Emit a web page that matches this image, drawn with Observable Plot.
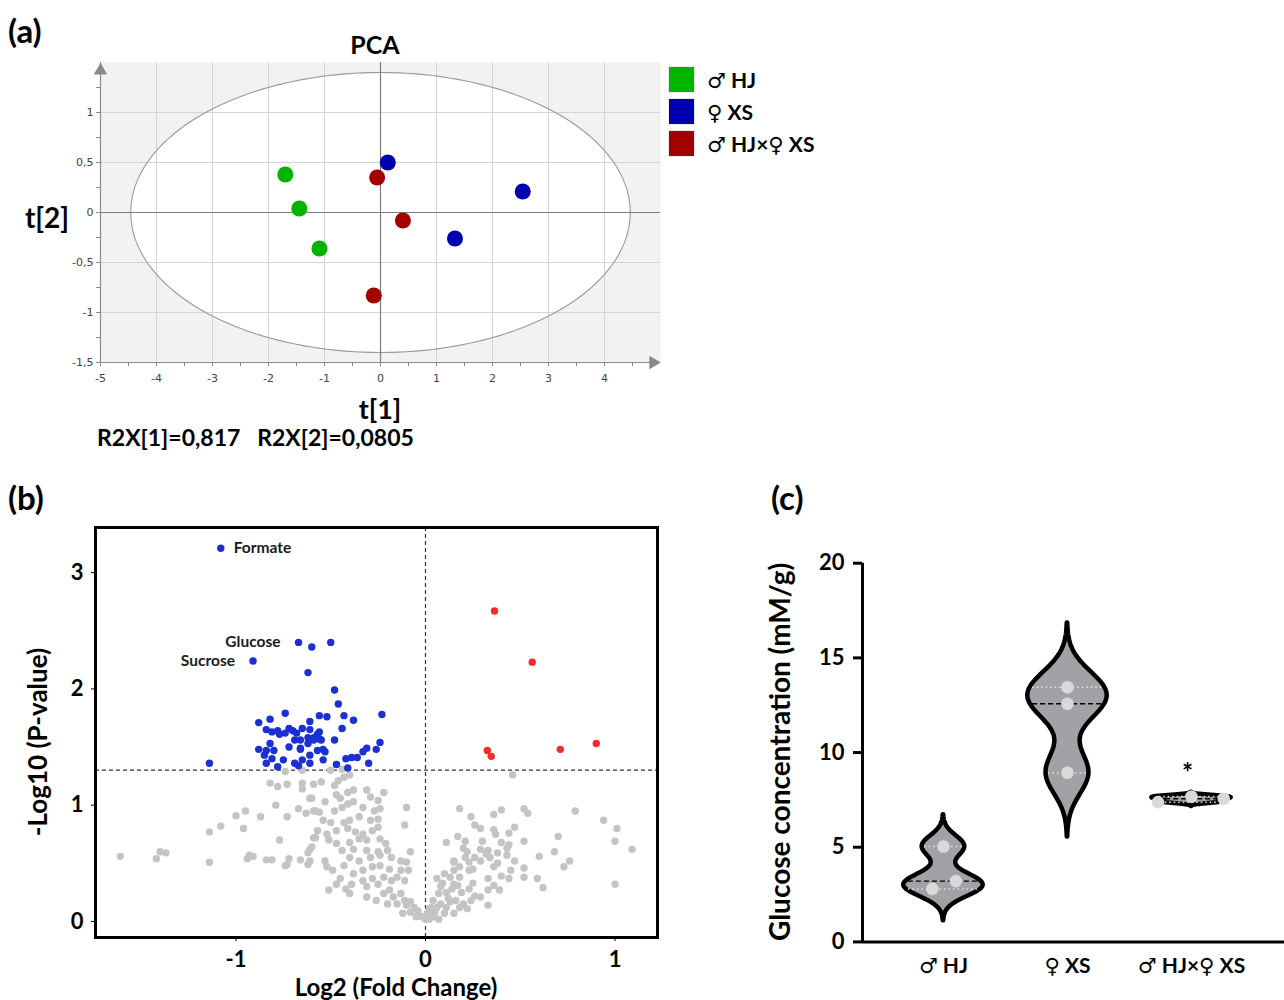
<!DOCTYPE html>
<html><head><meta charset="utf-8">
<script src="https://cdn.jsdelivr.net/npm/d3@7"></script>
<script src="https://cdn.jsdelivr.net/npm/@observablehq/plot@0.6"></script>
<style>
body{margin:0;background:#fff;}
#root{position:relative;width:1284px;height:1000px;overflow:hidden;font-family:Lato,"DejaVu Sans",sans-serif;}
#root svg{position:absolute;overflow:visible;}
.abs{position:absolute;white-space:pre;line-height:1;}
</style></head><body><div id="root"></div>
<script>
// ---------- (a) PCA scores ----------
const pcaGroups = ["♂ HJ", "♀ XS", "♂ HJ×♀ XS"];
const pcaColors = ["#00b400", "#0000b0", "#a30000"];
const pcaGroup = ["♂ HJ","♂ HJ","♂ HJ","♀ XS","♀ XS","♀ XS","♂ HJ×♀ XS","♂ HJ×♀ XS","♂ HJ×♀ XS"];
const pcaT1 = [-1.70, -1.45, -1.09, 0.13, 2.54, 1.33, -0.06, 0.40, -0.12];
const pcaT2 = [0.38, 0.04, -0.36, 0.50, 0.21, -0.26, 0.35, -0.08, -0.83];
const ellipseRadii = [4.46, 1.40];
const pcaXTicks = [-5, -4, -3, -2, -1, 0, 1, 2, 3, 4];
const pcaYTicks = [-1.5, -1, -0.5, 0, 0.5, 1];
const pcaR2X = ["R2X[1]=0,817", "R2X[2]=0,0805"];

// ---------- (b) volcano ----------
const pThreshold = 1.301;
const volcanoXTicks = [-1, 0, 1];
const volcanoYTicks = [0, 1, 2, 3];
const annotNames = ["Formate", "Glucose", "Sucrose"];
const annotX = [-1.08, -0.67, -0.91];
const annotY = [3.21, 2.40, 2.24];
const upRegulated = [[0.364,2.67],[0.563,2.23],[0.326,1.47],[0.347,1.42],[0.711,1.48],[0.901,1.53]];
const downRegulated = [
[-1.08,3.21],[-0.67,2.40],[-0.60,2.36],[-0.50,2.40],[-0.91,2.24],[-0.62,2.14],[-0.48,1.99],[-0.46,1.87],
[-0.74,1.79],[-0.23,1.78],[-0.56,1.77],[-0.52,1.76],[-0.43,1.77],[-0.82,1.74],[-0.88,1.71],[-0.61,1.72],[-0.38,1.73],[-0.44,1.66],
[-0.84,1.65],[-0.81,1.63],[-0.78,1.64],[-0.77,1.61],[-0.72,1.66],[-0.70,1.64],[-0.69,1.56],[-0.66,1.56],[-0.65,1.66],[-0.61,1.65],[-0.57,1.61],[-0.56,1.57],[-0.59,1.56],[-0.62,1.58],[-0.55,1.56],
[-0.48,1.56],[-0.82,1.53],[-0.88,1.48],[-0.84,1.47],[-0.85,1.43],[-0.80,1.47],[-0.75,1.39],[-0.81,1.40],[-0.84,1.36],[-0.78,1.33],
[-0.66,1.48],[-0.61,1.43],[-0.57,1.47],[-0.53,1.46],[-0.54,1.39],[-0.61,1.36],[-0.65,1.39],[-0.69,1.36],[-0.67,1.34],
[-0.47,1.35],[-0.41,1.32],[-0.42,1.40],[-0.39,1.41],[-0.36,1.41],[-0.33,1.46],[-0.31,1.49],[-0.26,1.48],[-0.24,1.54],[-0.30,1.36],
[-1.14,1.36],[-0.62,1.53],[-0.56,1.63],[-0.59,1.58],[-0.54,1.48],[-0.66,1.49],[-0.74,1.62],[-0.68,1.62],[-0.72,1.50]
];
const notSignificant = [
[-0.74,1.29],[-0.65,1.30],[-0.82,1.19],[-0.78,1.16],[-0.73,1.18],[-0.65,1.19],[-0.65,1.14],[-0.59,1.18],[-0.60,1.06],[-0.79,1.00],
[-0.67,0.97],[-0.63,0.93],[-0.59,0.95],[-0.95,0.95],[-1.00,0.91],[-0.87,0.90],[-0.73,0.90],[-1.08,0.82],[-1.14,0.77],[-0.96,0.80],
[-0.77,0.70],[-0.59,0.72],[-1.61,0.56],[-1.40,0.60],[-1.37,0.59],[-1.42,0.54],[-1.14,0.51],[-0.93,0.57],[-0.91,0.56],[-0.94,0.54],
[-0.84,0.53],[-0.81,0.53],[-0.72,0.54],[-0.74,0.48],[-0.73,0.49],[-0.66,0.53],[-0.62,0.49],[-0.61,0.52],[-0.62,0.59],[-0.60,0.64],
[-0.50,1.30],[-0.44,1.31],[-0.43,1.24],[-0.40,1.26],[-0.46,1.21],[-0.48,1.17],[-0.55,1.20],
[-0.61,1.06],[-0.53,1.03],[-0.47,1.09],[-0.45,1.06],[-0.41,1.11],[-0.38,1.13],[-0.31,1.13],[-0.22,1.11],[-0.29,1.07],[-0.25,1.04],
[-0.58,0.95],[-0.56,0.94],[-0.48,0.95],[-0.44,0.98],[-0.41,1.01],[-0.38,1.03],[-0.33,0.98],[-0.27,0.95],[-0.24,0.97],[-0.10,0.98],
[-0.54,0.87],[-0.50,0.85],[-0.43,0.85],[-0.40,0.87],[-0.35,0.90],[-0.29,0.87],[-0.25,0.88],[-0.11,0.83],
[-0.57,0.78],[-0.52,0.75],[-0.47,0.78],[-0.41,0.80],[-0.37,0.77],[-0.33,0.75],[-0.28,0.78],[-0.25,0.81],
[-0.58,0.72],[-0.51,0.70],[-0.47,0.67],[-0.40,0.68],[-0.35,0.71],[-0.31,0.70],[-0.24,0.71],[-0.21,0.67],
[-0.61,0.62],[-0.44,0.61],[-0.38,0.62],[-0.31,0.61],[-0.25,0.60],[-0.20,0.61],
[-0.53,0.52],[-0.49,0.44],[-0.52,0.47],[-0.40,0.55],[-0.35,0.52],[-0.29,0.55],[-0.24,0.57],[-0.18,0.55],[-0.13,0.52],[-0.08,0.60],[-0.10,0.51],
[-0.43,0.48],[-0.38,0.41],[-0.33,0.44],[-0.28,0.47],[-0.24,0.48],[-0.19,0.45],[-0.13,0.44],[-0.09,0.44],
[-0.45,0.37],[-0.47,0.32],[-0.51,0.27],[-0.42,0.28],[-0.40,0.24],[-0.39,0.32],[-0.33,0.35],[-0.31,0.30],[-0.28,0.37],[-0.25,0.32],[-0.22,0.38],[-0.18,0.35],[-0.15,0.38],[-0.11,0.35],
[-0.31,0.21],[-0.26,0.18],[-0.22,0.24],[-0.19,0.27],[-0.17,0.21],[-0.13,0.24],[-0.11,0.18],[-0.10,0.14],[-0.08,0.17],[-0.06,0.12],[-0.04,0.09],[-0.04,0.05],[-0.02,0.04],[-0.12,0.07],[-0.15,0.15],[-0.20,0.15],[-0.08,0.08],[-0.05,0.04],[0.00,0.02],[0.02,0.11],
[0.46,1.26],[0.18,0.97],[0.24,0.90],[0.36,0.92],[0.40,0.96],[0.52,0.97],[0.54,0.93],[0.79,0.95],[0.94,0.87],[1.01,0.80],[1.00,0.69],[1.09,0.62],[1.00,0.32],
[0.26,0.83],[0.29,0.80],[0.36,0.79],[0.37,0.75],[0.44,0.76],[0.47,0.81],[0.17,0.73],[0.11,0.68],[0.21,0.69],[0.30,0.69],[0.40,0.68],[0.44,0.66],[0.52,0.69],
[0.70,0.73],[0.68,0.60],[0.60,0.56],[0.76,0.52],[0.73,0.47],[0.20,0.63],[0.22,0.60],[0.29,0.62],[0.33,0.61],[0.34,0.55],[0.43,0.57],[0.47,0.52],[0.52,0.46],
[0.52,0.38],[0.59,0.37],[0.62,0.29],[0.44,0.37],[0.45,0.44],[0.40,0.39],[0.38,0.50],[0.36,0.47],[0.29,0.52],[0.26,0.55],[0.23,0.51],[0.18,0.47],[0.15,0.51],
[0.15,0.44],[0.23,0.44],[0.25,0.45],[0.33,0.37],[0.36,0.31],[0.39,0.27],[0.33,0.27],[0.29,0.21],[0.26,0.22],[0.23,0.28],[0.25,0.33],[0.33,0.14],[0.20,0.15],
[0.22,0.11],[0.15,0.07],[0.13,0.17],[0.19,0.25],[0.17,0.31],[0.11,0.25],[0.08,0.30],[0.06,0.37],[0.10,0.41],[0.13,0.38],[0.15,0.32],[0.18,0.38],[0.07,0.24],
[0.04,0.18],[0.08,0.15],[0.11,0.12],[0.03,0.12],[0.01,0.07],[0.05,0.08],[0.10,0.07],[-0.01,0.04],[0.04,0.04],[0.07,0.02],[0.15,0.52],[0.21,0.55],[0.32,0.58],
[0.38,0.59],[0.43,0.63],[0.12,0.20],[0.16,0.18],[0.09,0.33],[0.14,0.28],[0.06,0.12],[0.02,0.02],[0.18,0.12],[0.24,0.18]
];

// ---------- (c) glucose violin ----------
const glucoseGroups = ["♂ HJ", "♀ XS", "♂ HJ×♀ XS"];
const glucoseGroupOf = ["♂ HJ","♂ HJ","♂ HJ","♀ XS","♀ XS","♀ XS","♂ HJ×♀ XS","♂ HJ×♀ XS","♂ HJ×♀ XS"];
const glucoseValues = [5.04, 3.21, 2.80, 13.45, 12.58, 8.93, 7.38, 7.68, 7.56];
const glucoseJitter = [0, 0.10, -0.09, 0, 0, 0, -0.27, 0, 0.26];
const glucoseTicks = [0, 5, 10, 15, 20];
const significance = [{group: "♂ HJ×♀ XS", label: "*"}];

// ---------- helpers ----------
const FONT = "Lato, 'DejaVu Sans', sans-serif";
const root = document.getElementById("root");
function label(txt, x, y, size, o = {}) {
  const d = document.createElement("div");
  d.className = "abs";
  d.textContent = txt;
  d.style.left = x + "px"; d.style.top = y + "px";
  d.style.fontSize = size + "px";
  d.style.fontWeight = o.weight || "bold";
  d.style.fontFamily = o.family || FONT;
  d.style.color = o.color || "#000";
  const tx = (o.anchor || "middle") === "middle" ? "-50%" : o.anchor === "end" ? "-100%" : "0";
  d.style.transform = `translate(${tx},-50%)` + (o.rotate ? ` rotate(${o.rotate}deg)` : "");
  root.appendChild(d);
  return d;
}
function symbolize(node) {
  node.querySelectorAll("text").forEach(t => {
    if (!/[♂♀]/.test(t.textContent)) return;
    const s = t.textContent; t.textContent = "";
    for (const part of s.split(/([♂♀])/)) {
      if (!part) continue;
      const ts = document.createElementNS("http://www.w3.org/2000/svg", "tspan");
      ts.textContent = part;
      if (/[♂♀]/.test(part)) { ts.setAttribute("font-family", "'DejaVu Sans'"); ts.setAttribute("font-weight", "normal"); }
      t.appendChild(ts);
    }
  });
}
function htmlSym(div) {
  div.innerHTML = div.textContent.replace(/([♂♀])/g, '<span style="font-family:\'DejaVu Sans\';font-weight:normal">$1</span>');
}
function place(svg, left, top) { svg.style.left = left + "px"; svg.style.top = top + "px"; root.appendChild(svg); }

// ---------- panel (a) ----------
const pcaData = pcaT1.map((t1, i) => ({t1, t2: pcaT2[i], group: pcaGroup[i]}));
const ellipse = d3.range(0, 361, 2).map(a => ({x: ellipseRadii[0] * Math.cos(a * Math.PI / 180), y: ellipseRadii[1] * Math.sin(a * Math.PI / 180)}));
const pxd = [pcaXTicks[0], pcaXTicks[pcaXTicks.length - 1] + 1];
const pyd = [pcaYTicks[0], -pcaYTicks[0]];
const fmtComma = d => String(d).replace(".", ",");
const pca = Plot.plot({
  width: 680, height: 400, marginLeft: 100, marginRight: 20, marginTop: 62, marginBottom: 38,
  x: {domain: pxd}, y: {domain: pyd},
  color: {domain: pcaGroups, range: pcaColors},
  style: {fontFamily: "'DejaVu Sans', sans-serif", fontSize: "11px", background: "transparent"},
  marks: [
    Plot.frame({fill: "#f2f2f2", stroke: null}),
    Plot.line(ellipse, {x: "x", y: "y", fill: "white", stroke: null}),
    Plot.gridX(pcaXTicks.slice(1), {stroke: "#d4d4d4", strokeOpacity: 1}),
    Plot.gridY(pcaYTicks.slice(1).filter(d => d !== 0), {stroke: "#d4d4d4", strokeOpacity: 1}),
    Plot.line(ellipse, {x: "x", y: "y", stroke: "#9a9a9a", strokeWidth: 1.1}),
    Plot.ruleX([0], {stroke: "#7d7d7d", strokeWidth: 1.2}),
    Plot.ruleY([0], {stroke: "#7d7d7d", strokeWidth: 1.2}),
    Plot.ruleX([pxd[0]], {stroke: "#8a8a8a", strokeWidth: 1.2}),
    Plot.ruleY([pyd[0]], {stroke: "#8a8a8a", strokeWidth: 1.2}),
    Plot.axisX(pcaXTicks, {tickSize: 4, tickPadding: 8, tickFormat: fmtComma, stroke: "#8a8a8a", fill: "#444", label: null}),
    Plot.axisX(pcaXTicks.map(d => d + 0.5), {tickSize: 4, tickFormat: () => "", stroke: "#8a8a8a", label: null}),
    Plot.axisY(pcaYTicks, {tickSize: 4, tickPadding: 3, tickFormat: fmtComma, stroke: "#8a8a8a", fill: "#444", label: null}),
    Plot.axisY(pcaYTicks.map(d => d + 0.25), {tickSize: 4, tickFormat: () => "", stroke: "#8a8a8a", label: null}),
    Plot.dot([{x: pxd[1] - 0.13, y: pyd[0]}], {x: "x", y: "y", symbol: "triangle", rotate: 90, r: 5, fill: "#8a8a8a", stroke: null}),
    Plot.dot([{x: pxd[0], y: pyd[1] - 0.08}], {x: "x", y: "y", symbol: "triangle", r: 5, fill: "#8a8a8a", stroke: null}),
    Plot.dot(pcaData, {x: "t1", y: "t2", fill: "group", r: 8})
  ]
});
place(pca, 0, 0);
label("(a)", 8, 30, 33, {anchor: "start"});
label("PCA", 375, 44, 25);
label("t[2]", 47, 217, 28);
label("t[1]", 380, 408, 27);
label(pcaR2X.join("   "), 97, 437, 23, {anchor: "start"});
pcaGroups.forEach((g, i) => {
  const sq = document.createElement("div");
  sq.className = "abs";
  Object.assign(sq.style, {left: "669px", top: (67 + i * 32) + "px", width: "25px", height: "25px", background: pcaColors[i], boxShadow: "0 0 0 1px rgba(0,0,0,0.08)"});
  root.appendChild(sq);
  htmlSym(label(g, 707, 80 + i * 32, 21, {anchor: "start"}));
});

// ---------- panel (b) ----------
const px = d => d[0], py = d => d[1];
const annot = annotNames.map((n, i) => ({name: n, x: annotX[i], y: annotY[i]}));
const volcano = Plot.plot({
  width: 680, height: 510, marginLeft: 95, marginRight: 23, marginTop: 37, marginBottom: 63,
  x: {domain: [-1.741, 1.224]}, y: {domain: [-0.138, 3.388]},
  style: {fontFamily: FONT, fontSize: "22px", fontWeight: "bold", color: "#000", background: "transparent"},
  marks: [
    Plot.ruleY([pThreshold], {stroke: "#333", strokeDasharray: "4,3", strokeWidth: 1.2}),
    Plot.ruleX([0], {stroke: "#333", strokeDasharray: "4,3", strokeWidth: 1.2}),
    Plot.dot(notSignificant, {x: px, y: py, r: 3.7, fill: "#c4c4c4", stroke: null}),
    Plot.dot(downRegulated, {x: px, y: py, r: 3.7, fill: "#1b30d2", stroke: null}),
    Plot.dot(upRegulated, {x: px, y: py, r: 3.7, fill: "#f52a2a", stroke: null}),
    Plot.text(annot.slice(0, 1), {x: "x", y: "y", text: "name", textAnchor: "start", dx: 13, fontSize: 15.5, fill: "#1a1a1a"}),
    Plot.text(annot.slice(1), {x: "x", y: "y", text: "name", textAnchor: "end", dx: -18, fontSize: 15.5, fill: "#1a1a1a"}),
    Plot.frame({stroke: "#000", strokeWidth: 3}),
    Plot.axisX(volcanoXTicks, {tickSize: 4, tickPadding: 10, tickFormat: d => String(d), label: null}),
    Plot.axisY(volcanoYTicks, {tickSize: 4, tickPadding: 8, tickFormat: d => String(d), label: null})
  ]
});
place(volcano, 0, 490);
label("(b)", 8, 497, 33, {anchor: "start"});
label("-Log10 (P-value)", 37, 742, 26, {rotate: -90});
label("Log2 (Fold Change)", 396, 987, 24);

// ---------- panel (c) ----------
const gIndex = g => glucoseGroups.indexOf(g);
const glucosePts = glucoseValues.map((v, i) => ({group: glucoseGroupOf[i], v, x: gIndex(glucoseGroupOf[i]) + glucoseJitter[i]}));
const maxHalf = 0.32;
const violinPts = [], medLines = [], quartLines = [];
glucoseGroups.forEach((g, gi) => {
  const vals = glucosePts.filter(d => d.group === g).map(d => d.v).sort(d3.ascending);
  const lo = vals[0], hi = vals[vals.length - 1];
  const bw = 0.25 * (hi - lo);
  const dens = y => d3.sum(vals, v => Math.exp(-((y - v) ** 2) / (2 * bw * bw)));
  const ys = d3.range(0, 121).map(k => lo - 3 * bw + (hi - lo + 6 * bw) * k / 120);
  const dmax = d3.max(ys, dens);
  const hw = y => maxHalf * dens(y) / dmax;
  ys.forEach(y => violinPts.push({group: g, y, x1: gi - hw(y), x2: gi + hw(y)}));
  const n = vals.length;
  const q = p => { const pos = p * (n + 1) - 1; const i = Math.max(0, Math.min(n - 1, Math.floor(pos))); const j = Math.min(n - 1, i + 1); return vals[i] + (vals[j] - vals[i]) * Math.max(0, pos - Math.floor(pos)); };
  const med = d3.median(vals);
  medLines.push({y: med, x1: gi - hw(med) + 0.02, x2: gi + hw(med) - 0.02});
  [q(0.25), q(0.75)].forEach(y => quartLines.push({y, x1: gi - hw(y) + 0.02, x2: gi + hw(y) - 0.02}));
});
const sigPts = significance.map(s => ({label: s.label, x: gIndex(s.group), y: d3.max(glucosePts.filter(d => d.group === s.group), d => d.v) + 1.2}));
const xL = -0.653;
const violin = Plot.plot({
  width: 534, height: 510, marginLeft: 112, marginRight: 0, marginTop: 72.7, marginBottom: 58.6,
  x: {domain: [xL, 2.75]}, y: {domain: [0, 20]},
  style: {fontFamily: FONT, fontSize: "22px", fontWeight: "bold", color: "#000", background: "transparent"},
  marks: [
    Plot.areaX(violinPts, {y: "y", x1: "x1", x2: "x2", z: "group", fill: "#a3a1a5", stroke: "#000", strokeWidth: 4.5, strokeLinejoin: "round"}),
    Plot.ruleY(quartLines, {y: "y", x1: "x1", x2: "x2", stroke: "#e4e4e4", strokeDasharray: "1.5,3", strokeWidth: 1.5}),
    Plot.ruleY(medLines, {y: "y", x1: "x1", x2: "x2", stroke: "#000", strokeDasharray: "5,3", strokeWidth: 1.4}),
    Plot.dot(glucosePts, {x: "x", y: "v", r: 6.3, fill: "#d9d9d9", stroke: null}),
    Plot.text(sigPts, {x: "x", y: "y", text: "label", fontSize: 26, dx: -4}),
    Plot.ruleX([xL], {y1: 0, y2: 20, stroke: "#000", strokeWidth: 3}),
    Plot.ruleY([0], {stroke: "#000", strokeWidth: 3}),
    Plot.axisY(glucoseTicks, {tickSize: 9, tickPadding: 9, strokeWidth: 3, label: null}),
    Plot.axisX([0, 1, 2], {tickSize: 0, tickPadding: 16, tickFormat: i => glucoseGroups[i], fontSize: 21, label: null})
  ]
});
symbolize(violin);
place(violin, 750, 490);
label("(c)", 771, 497, 33, {anchor: "start"});
label("Glucose concentration (mM/g)", 779, 752, 28, {rotate: -90});
</script></body></html>
